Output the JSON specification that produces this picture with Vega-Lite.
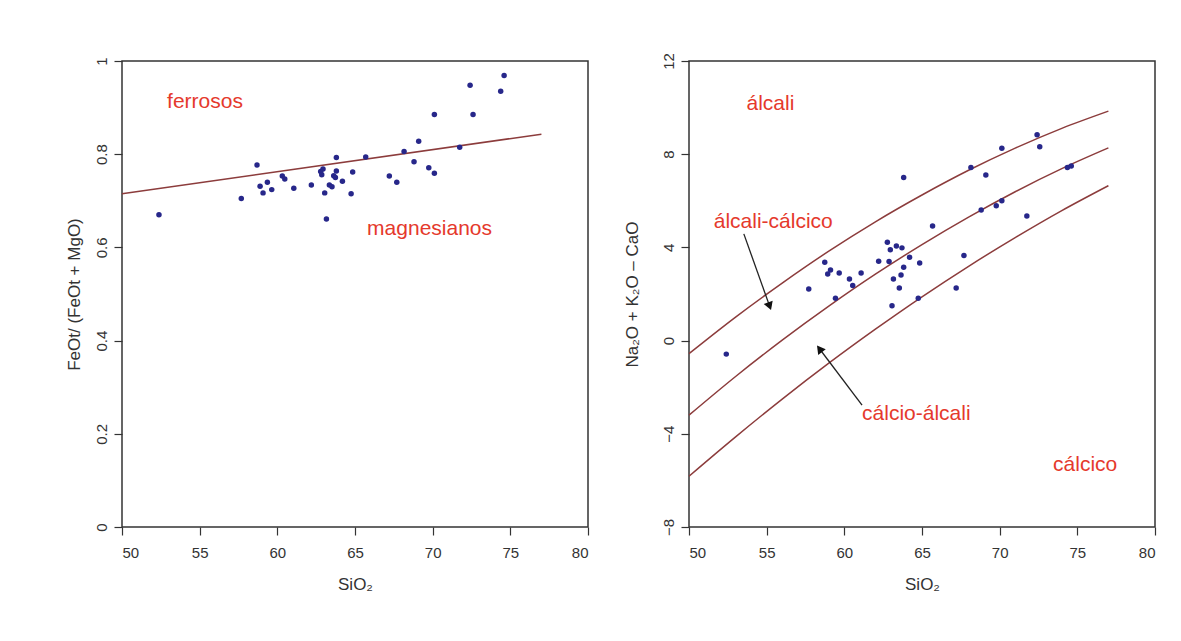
{
  "$schema": "https://vega.github.io/schema/vega-lite/v6.json",
  "background": "white",
  "padding": {"left": 64, "top": 51, "right": 5, "bottom": 5},
  "spacing": 101,
  "bounds": "flush",
  "config": {
    "font": "Liberation Sans",
    "view": {"stroke": "#333333", "strokeWidth": 1.5},
    "axis": {"grid": false, "domain": false, "tickColor": "#333333", "tickSize": 8, "tickWidth": 1.2,
      "labelFont": "Liberation Sans", "labelFontSize": 15, "labelColor": "#333333",
      "titleFont": "Liberation Sans", "titleFontSize": 17, "titleFontWeight": "normal", "titleColor": "#333333"}
  },
  "datasets": {
    "left": [
      {"SiO2": 52.38, "v": 0.670}, {"SiO2": 57.68, "v": 0.705}, {"SiO2": 58.69, "v": 0.777},
      {"SiO2": 58.89, "v": 0.731}, {"SiO2": 59.08, "v": 0.717}, {"SiO2": 59.36, "v": 0.740},
      {"SiO2": 59.64, "v": 0.724}, {"SiO2": 60.32, "v": 0.753}, {"SiO2": 60.48, "v": 0.747},
      {"SiO2": 61.06, "v": 0.727}, {"SiO2": 62.19, "v": 0.734}, {"SiO2": 62.79, "v": 0.763},
      {"SiO2": 62.86, "v": 0.756}, {"SiO2": 62.94, "v": 0.768}, {"SiO2": 63.05, "v": 0.717},
      {"SiO2": 63.16, "v": 0.661}, {"SiO2": 63.35, "v": 0.734}, {"SiO2": 63.52, "v": 0.730},
      {"SiO2": 63.63, "v": 0.754}, {"SiO2": 63.74, "v": 0.750}, {"SiO2": 63.80, "v": 0.764},
      {"SiO2": 63.80, "v": 0.793}, {"SiO2": 64.19, "v": 0.742}, {"SiO2": 64.75, "v": 0.715},
      {"SiO2": 64.85, "v": 0.762}, {"SiO2": 65.69, "v": 0.794}, {"SiO2": 67.21, "v": 0.753},
      {"SiO2": 67.69, "v": 0.740}, {"SiO2": 68.16, "v": 0.806}, {"SiO2": 68.80, "v": 0.784},
      {"SiO2": 69.10, "v": 0.828}, {"SiO2": 69.75, "v": 0.771}, {"SiO2": 70.11, "v": 0.759},
      {"SiO2": 70.11, "v": 0.885}, {"SiO2": 71.74, "v": 0.815}, {"SiO2": 72.41, "v": 0.948},
      {"SiO2": 72.60, "v": 0.885}, {"SiO2": 74.38, "v": 0.935}, {"SiO2": 74.60, "v": 0.969}
    ],
    "leftLine": [{"SiO2": 50, "v": 0.715}, {"SiO2": 77, "v": 0.843}],
    "leftText": [
      {"SiO2": 52.9, "v": 0.911, "label": "ferrosos"},
      {"SiO2": 65.78, "v": 0.639, "label": "magnesianos"}
    ],
    "right": [
      {"SiO2": 52.40, "m": -0.58}, {"SiO2": 57.71, "m": 2.21}, {"SiO2": 58.74, "m": 3.36},
      {"SiO2": 59.11, "m": 3.03}, {"SiO2": 58.93, "m": 2.86}, {"SiO2": 59.67, "m": 2.90},
      {"SiO2": 59.43, "m": 1.82}, {"SiO2": 60.33, "m": 2.64}, {"SiO2": 60.54, "m": 2.36},
      {"SiO2": 61.08, "m": 2.90}, {"SiO2": 62.21, "m": 3.41}, {"SiO2": 62.77, "m": 4.22},
      {"SiO2": 62.96, "m": 3.90}, {"SiO2": 62.88, "m": 3.39}, {"SiO2": 63.35, "m": 4.06},
      {"SiO2": 63.71, "m": 3.98}, {"SiO2": 64.20, "m": 3.58}, {"SiO2": 63.82, "m": 3.15},
      {"SiO2": 63.65, "m": 2.82}, {"SiO2": 63.16, "m": 2.64}, {"SiO2": 63.54, "m": 2.26},
      {"SiO2": 63.07, "m": 1.50}, {"SiO2": 64.85, "m": 3.33}, {"SiO2": 64.76, "m": 1.82},
      {"SiO2": 65.68, "m": 4.92}, {"SiO2": 67.20, "m": 2.26}, {"SiO2": 67.70, "m": 3.65},
      {"SiO2": 68.81, "m": 5.61}, {"SiO2": 69.78, "m": 5.79}, {"SiO2": 68.15, "m": 7.43},
      {"SiO2": 69.11, "m": 7.11}, {"SiO2": 70.14, "m": 8.26}, {"SiO2": 72.41, "m": 8.83},
      {"SiO2": 72.58, "m": 8.32}, {"SiO2": 70.14, "m": 6.00}, {"SiO2": 71.75, "m": 5.35},
      {"SiO2": 74.36, "m": 7.43}, {"SiO2": 74.61, "m": 7.49}, {"SiO2": 63.82, "m": 7.00}
    ],
    "curves": [
      {"c": "a", "SiO2": 50, "m": -0.56}, {"c": "a", "SiO2": 53, "m": 1.01}, {"c": "a", "SiO2": 56, "m": 2.47},
      {"c": "a", "SiO2": 59, "m": 3.84}, {"c": "a", "SiO2": 62, "m": 5.10}, {"c": "a", "SiO2": 65, "m": 6.25},
      {"c": "a", "SiO2": 68, "m": 7.31}, {"c": "a", "SiO2": 71, "m": 8.26}, {"c": "a", "SiO2": 74, "m": 9.11},
      {"c": "a", "SiO2": 77, "m": 9.85},
      {"c": "b", "SiO2": 50, "m": -3.20}, {"c": "b", "SiO2": 53, "m": -1.54}, {"c": "b", "SiO2": 56, "m": 0.02},
      {"c": "b", "SiO2": 59, "m": 1.48}, {"c": "b", "SiO2": 62, "m": 2.85}, {"c": "b", "SiO2": 65, "m": 4.12},
      {"c": "b", "SiO2": 68, "m": 5.30}, {"c": "b", "SiO2": 71, "m": 6.39}, {"c": "b", "SiO2": 74, "m": 7.38},
      {"c": "b", "SiO2": 77, "m": 8.27},
      {"c": "c", "SiO2": 50, "m": -5.82}, {"c": "c", "SiO2": 53, "m": -4.13}, {"c": "c", "SiO2": 56, "m": -2.51},
      {"c": "c", "SiO2": 59, "m": -0.97}, {"c": "c", "SiO2": 62, "m": 0.49}, {"c": "c", "SiO2": 65, "m": 1.88},
      {"c": "c", "SiO2": 68, "m": 3.19}, {"c": "c", "SiO2": 71, "m": 4.42}, {"c": "c", "SiO2": 74, "m": 5.58},
      {"c": "c", "SiO2": 77, "m": 6.65}
    ],
    "rightText": [
      {"SiO2": 53.7, "m": 10.16, "label": "álcali"},
      {"SiO2": 51.59, "m": 5.09, "label": "álcali-cálcico"},
      {"SiO2": 61.14, "m": -3.16, "label": "cálcio-álcali"},
      {"SiO2": 73.44, "m": -5.35, "label": "cálcico"}
    ],
    "arrows": [
      {"a": "a1", "x1": 53.53, "y1": 4.58, "x2": 55.19, "y2": 1.48},
      {"a": "a2", "x1": 61.14, "y1": -2.77, "x2": 58.40, "y2": -0.35}
    ]
  },
  "hconcat": [
    {
      "width": 466, "height": 466,
      "layer": [
        {
          "data": {"name": "leftLine"},
          "mark": {"type": "line", "color": "#8c3c3c", "strokeWidth": 1.5},
          "encoding": {
            "x": {"field": "SiO2", "type": "quantitative", "scale": {"domain": [50, 80], "nice": false, "zero": false},
              "axis": {"values": [50, 55, 60, 65, 70, 75, 80], "title": "SiO₂", "labelPadding": 10, "titlePadding": 16}},
            "y": {"field": "v", "type": "quantitative", "scale": {"domain": [0, 1], "nice": false},
              "axis": {"values": [0, 0.2, 0.4, 0.6, 0.8, 1], "format": "~g", "title": "FeOt/ (FeOt + MgO)", "labelAngle": -90,
                "labelAlign": "center", "labelBaseline": "bottom", "labelPadding": 5, "titlePadding": 11}}
          }
        },
        {
          "data": {"name": "left"},
          "mark": {"type": "circle", "color": "#27278a", "opacity": 1, "size": 30},
          "encoding": {
            "x": {"field": "SiO2", "type": "quantitative"},
            "y": {"field": "v", "type": "quantitative"}
          }
        },
        {
          "data": {"name": "leftText"},
          "mark": {"type": "text", "color": "#e5392c", "fontSize": 21, "align": "left", "baseline": "middle", "font": "Liberation Sans"},
          "encoding": {
            "x": {"field": "SiO2", "type": "quantitative"},
            "y": {"field": "v", "type": "quantitative"},
            "text": {"field": "label"}
          }
        }
      ]
    },
    {
      "width": 466, "height": 466,
      "layer": [
        {
          "data": {"name": "curves"},
          "mark": {"type": "line", "color": "#8c3c3c", "strokeWidth": 1.5, "interpolate": "monotone"},
          "encoding": {
            "x": {"field": "SiO2", "type": "quantitative", "scale": {"domain": [50, 80], "nice": false, "zero": false},
              "axis": {"values": [50, 55, 60, 65, 70, 75, 80], "title": "SiO₂", "labelPadding": 10, "titlePadding": 16}},
            "y": {"field": "m", "type": "quantitative", "scale": {"domain": [-8, 12], "nice": false, "zero": false},
              "axis": {"values": [-8, -4, 0, 4, 8, 12], "title": "Na₂O + K₂O – CaO", "labelAngle": -90,
                "labelAlign": "center", "labelBaseline": "bottom", "labelPadding": 5, "titlePadding": 20}},
            "detail": {"field": "c"}
          }
        },
        {
          "data": {"name": "right"},
          "mark": {"type": "circle", "color": "#27278a", "opacity": 1, "size": 30},
          "encoding": {
            "x": {"field": "SiO2", "type": "quantitative"},
            "y": {"field": "m", "type": "quantitative"}
          }
        },
        {
          "data": {"name": "arrows"},
          "mark": {"type": "rule", "color": "#222222", "strokeWidth": 1.3},
          "encoding": {
            "x": {"field": "x1", "type": "quantitative"},
            "y": {"field": "y1", "type": "quantitative"},
            "x2": {"field": "x2"},
            "y2": {"field": "y2"}
          }
        },
        {
          "data": {"name": "arrows"},
          "transform": [{"filter": "datum.a === 'a1'"}],
          "mark": {"type": "point", "shape": "triangle-up", "filled": true, "color": "#111111", "opacity": 1, "size": 90, "angle": 160},
          "encoding": {
            "x": {"field": "x2", "type": "quantitative"},
            "y": {"field": "y2", "type": "quantitative"}
          }
        },
        {
          "data": {"name": "arrows"},
          "transform": [{"filter": "datum.a === 'a2'"}],
          "mark": {"type": "point", "shape": "triangle-up", "filled": true, "color": "#111111", "opacity": 1, "size": 90, "angle": 323},
          "encoding": {
            "x": {"field": "x2", "type": "quantitative"},
            "y": {"field": "y2", "type": "quantitative"}
          }
        },
        {
          "data": {"name": "rightText"},
          "mark": {"type": "text", "color": "#e5392c", "fontSize": 21, "align": "left", "baseline": "middle", "font": "Liberation Sans"},
          "encoding": {
            "x": {"field": "SiO2", "type": "quantitative"},
            "y": {"field": "m", "type": "quantitative"},
            "text": {"field": "label"}
          }
        }
      ]
    }
  ]
}
